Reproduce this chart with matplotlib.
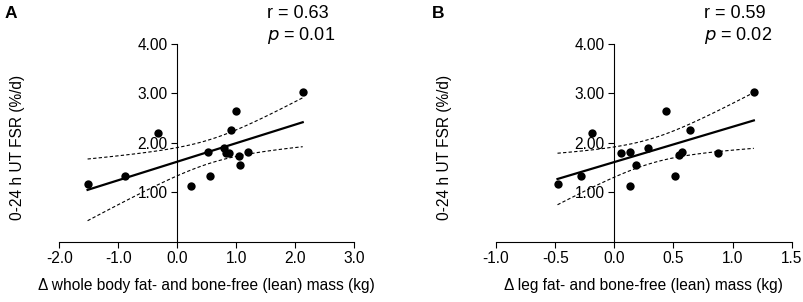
import numpy as np
import matplotlib
matplotlib.use("Agg")
import matplotlib.pyplot as plt

plt.rcParams['font.family'] = ['Liberation Sans', 'DejaVu Sans']

# panel A: change in whole body lean mass vs FSR
whole_body = [-1.52, -0.89, -0.32, 0.23, 0.53, 0.56, 0.80, 0.82, 0.88, 0.92, 1.00, 1.05, 1.06, 1.21, 2.13]
fsr_a = [1.17, 1.32, 2.20, 1.12, 1.81, 1.32, 1.89, 1.79, 1.79, 2.27, 2.64, 1.73, 1.56, 1.81, 3.03]

# panel B: change in leg lean mass vs FSR
leg = [-0.48, -0.28, -0.19, 0.06, 0.135, 0.135, 0.186, 0.285, 0.44, 0.51, 0.55, 0.57, 0.64, 0.88, 1.18]
fsr_b = [1.17, 1.32, 2.20, 1.79, 1.81, 1.12, 1.56, 1.89, 2.64, 1.32, 1.75, 1.81, 2.27, 1.79, 3.03]

x_ticks_a = [-2.0, -1.0, 0.0, 1.0, 2.0, 3.0]
x_ticks_b = [-1.0, -0.5, 0.0, 0.5, 1.0, 1.5]
y_ticks = [1.0, 2.0, 3.0, 4.0]

stats_a = ("r = 0.63", "0.01")
stats_b = ("r = 0.59", "0.02")

T_CRIT = 2.160  # t(0.975, df=13)


def fit_with_band(x, y):
    x = np.asarray(x)
    y = np.asarray(y)
    slope, intercept = np.polyfit(x, y, 1)
    n = len(x)
    resid = y - (slope * x + intercept)
    s = np.sqrt(np.sum(resid ** 2) / (n - 2))
    xs = np.linspace(x.min(), x.max(), 100)
    fit = slope * xs + intercept
    half = T_CRIT * s * np.sqrt(1 / n + (xs - x.mean()) ** 2 / np.sum((x - x.mean()) ** 2))
    return xs, fit, fit - half, fit + half


def draw_panel(ax, x, y, xticks, xlabel, stats, ylab_x):
    xs, fit, lo, hi = fit_with_band(x, y)
    ax.plot(xs, fit, color='black', lw=1.6, zorder=3)
    ax.plot(xs, lo, color='black', lw=0.8, ls=(0, (3, 2)), zorder=2)
    ax.plot(xs, hi, color='black', lw=0.8, ls=(0, (3, 2)), zorder=2)
    ax.scatter(x, y, s=36, color='black', zorder=4, linewidths=0)

    ax.set_xlim(xticks[0], xticks[-1])
    ax.set_ylim(0, 4)
    ax.spines['top'].set_visible(False)
    ax.spines['right'].set_visible(False)
    ax.spines['left'].set_position(('data', 0))
    ax.spines['left'].set_linewidth(0.8)
    ax.spines['bottom'].set_linewidth(0.8)
    ax.set_xticks(xticks)
    ax.set_xticklabels([f"{t:.1f}" for t in xticks])
    ax.set_yticks(y_ticks)
    ax.set_yticklabels([f"{t:.2f}" for t in y_ticks])
    ax.tick_params(labelsize=11.2, length=4, width=0.8, pad=3)
    ax.set_xlabel(xlabel, fontsize=11.2, labelpad=8)
    ax.set_ylabel("0-24 h UT FSR (%/d)", fontsize=11.2)
    ax.yaxis.set_label_coords(ylab_x, 0.475)

    ax.text(0.705, 1.155, stats[0], transform=ax.transAxes, fontsize=13, va='center')
    ax.text(0.705, 1.045, "$p$ = " + stats[1], transform=ax.transAxes, fontsize=13, va='center')
    return ax


fig = plt.figure(figsize=(8.04, 3.02), dpi=100)
ax_a = fig.add_axes([59.3 / 804, 60.3 / 302, 294.7 / 804, 197.7 / 302])
ax_b = fig.add_axes([496 / 804, 60.3 / 302, 295.7 / 804, 197.7 / 302])

draw_panel(ax_a, whole_body, fsr_a, x_ticks_a,
           "\u0394 whole body fat- and bone-free (lean) mass (kg)", stats_a, -0.118)
draw_panel(ax_b, leg, fsr_b, x_ticks_b,
           "\u0394 leg fat- and bone-free (lean) mass (kg)", stats_b, -0.15)

fig.text(5 / 804, 1 - 13 / 302, "A", fontsize=12.5, fontweight='bold', va='center')
fig.text(432 / 804, 1 - 13 / 302, "B", fontsize=12.5, fontweight='bold', va='center')

fig.savefig("out.png", dpi=100)
